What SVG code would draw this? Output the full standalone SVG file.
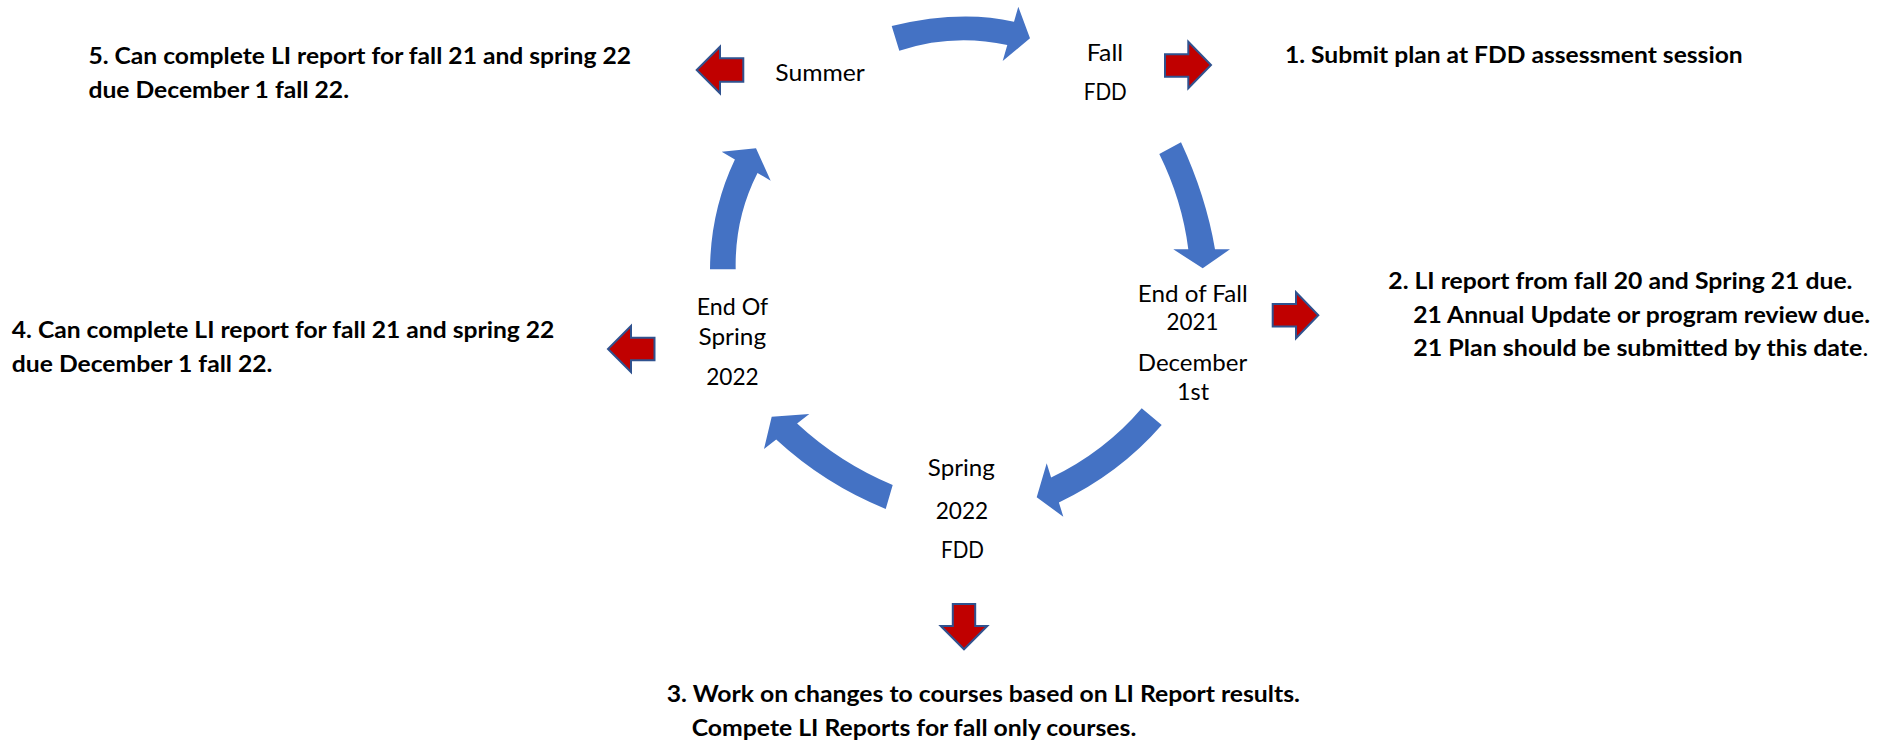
<svg xmlns="http://www.w3.org/2000/svg" width="1898" height="742" viewBox="0 0 1898 742">
<style>
.lbl{font-family:Lato,"Open Sans","DejaVu Sans",sans-serif;font-size:23px;fill:#000;text-anchor:middle}
.note{font-family:Lato,"Open Sans","DejaVu Sans",sans-serif;font-size:23.5px;font-weight:700;fill:#000}
.cyc{fill:#4472C4;stroke:none}
.red{fill:#C00000;stroke:#2F528F;stroke-width:2;stroke-linejoin:miter}
</style>
<rect width="1898" height="742" fill="#fff"/>

<g id="connectors">
  <path id="arc-summer-fall" class="cyc" d="M891.7,26 Q960,9.55 1014,21.7 L1018.3,6.7 L1030,38.3 L1002.7,61 L1007.3,45 Q952.7,33.15 899.3,50.7 Z"/>
  <path id="arc-fall-endfall" class="cyc" d="M1181,142.3 Q1206,196.2 1215,249.3 L1230,249.3 L1202.7,268.3 L1173.3,249.3 L1188.3,249.3 Q1182.2,200.35 1159.3,154 Z"/>
  <path id="arc-endfall-spring" class="cyc" d="M1141.7,408.3 Q1104.4,452 1051.1,477.6 L1046.7,463.3 L1036.7,497.3 L1063.3,516.7 L1058.9,502.4 Q1119.3,473.7 1161.7,425 Z"/>
  <path id="arc-spring-endspring" class="cyc" d="M892.7,485 Q839.5,462.75 797.1,423.5 L809.3,414 L771.7,416.7 L764,449 L776.2,439.6 Q824.6,484.3 885.7,509 Z"/>
  <path id="arc-endspring-summer" class="cyc" d="M710,269.3 Q710.5,210.6 734.9,159.5 L721.7,151.7 L756,148.3 L770.7,180.7 L757.5,172.9 Q734.6,217.9 735.7,269.3 Z"/>

  <polygon id="to-note1" class="red" points="1165,54.3 1188.3,54.3 1188.3,41.7 1211,65 1188.3,88.3 1188.3,76.7 1165,76.7"/>
  <polygon id="to-note2" class="red" points="1272.7,304.1 1296,304.1 1296,292.3 1318.3,315.3 1296,338.3 1296,326.5 1272.7,326.5"/>
  <polygon id="to-note3" class="red" points="952.8,604 975.2,604 975.2,626 987.3,626 964,649.3 940.7,626 952.8,626"/>
  <polygon id="to-note4" class="red" points="654.5,337.8 631,337.8 631,326 608,349 631,372 631,360.2 654.5,360.2"/>
  <polygon id="to-note5" class="red" points="743.3,58.3 720,58.3 720,46.7 696.7,70 720,93.3 720,81.7 743.3,81.7"/>
</g>

<g id="node-summer">
  <text class="lbl" x="820" y="81" textLength="89.5" lengthAdjust="spacingAndGlyphs">Summer</text>
</g>
<g id="node-fall">
  <text class="lbl" x="1105" y="60.7" textLength="36.3" lengthAdjust="spacingAndGlyphs">Fall</text>
  <text class="lbl" x="1105.3" y="100" textLength="43" lengthAdjust="spacingAndGlyphs">FDD</text>
</g>
<g id="node-end-of-fall">
  <text class="lbl" x="1192.8" y="301.7" textLength="110" lengthAdjust="spacingAndGlyphs">End of Fall</text>
  <text class="lbl" x="1192.5" y="330" textLength="52" lengthAdjust="spacingAndGlyphs">2021</text>
  <text class="lbl" x="1192.5" y="370.7" textLength="109.3" lengthAdjust="spacingAndGlyphs">December</text>
  <text class="lbl" x="1193" y="400" textLength="32" lengthAdjust="spacingAndGlyphs">1st</text>
</g>
<g id="node-spring">
  <text class="lbl" x="961.3" y="476" textLength="67" lengthAdjust="spacingAndGlyphs">Spring</text>
  <text class="lbl" x="962" y="519.3" textLength="52.5" lengthAdjust="spacingAndGlyphs">2022</text>
  <text class="lbl" x="962.5" y="558.3" textLength="43" lengthAdjust="spacingAndGlyphs">FDD</text>
</g>
<g id="node-end-of-spring">
  <text class="lbl" x="732.5" y="315" textLength="71.5" lengthAdjust="spacingAndGlyphs">End Of</text>
  <text class="lbl" x="732.3" y="345" textLength="67.5" lengthAdjust="spacingAndGlyphs">Spring</text>
  <text class="lbl" x="732.5" y="385" textLength="52.5" lengthAdjust="spacingAndGlyphs">2022</text>
</g>

<g id="note-1">
  <text class="note" x="1285" y="63.3" textLength="457.7" lengthAdjust="spacingAndGlyphs">1. Submit plan at FDD assessment session</text>
</g>
<g id="note-2">
  <text class="note" x="1388.3" y="289.3" textLength="464.2" lengthAdjust="spacingAndGlyphs">2. LI report from fall 20 and Spring 21 due.</text>
  <text class="note" x="1413.3" y="322.7" textLength="456.7" lengthAdjust="spacingAndGlyphs">21 Annual Update or program review due.</text>
  <text class="note" x="1413.3" y="356" textLength="455" lengthAdjust="spacingAndGlyphs">21 Plan should be submitted by this date<tspan font-weight="400">.</tspan></text>
</g>
<g id="note-3">
  <text class="note" x="666.7" y="701.7" textLength="633.2" lengthAdjust="spacingAndGlyphs">3. Work on changes to courses based on LI Report results.</text>
  <text class="note" x="691.7" y="736.2" textLength="444.6" lengthAdjust="spacingAndGlyphs">Compete LI Reports for fall only courses.</text>
</g>
<g id="note-4">
  <text class="note" x="11.8" y="338" textLength="542.6" lengthAdjust="spacingAndGlyphs">4. Can complete LI report for fall 21 and spring 22</text>
  <text class="note" x="11.8" y="371.5" textLength="260.6" lengthAdjust="spacingAndGlyphs">due December 1 fall 22.</text>
</g>
<g id="note-5">
  <text class="note" x="88.4" y="64" textLength="542.6" lengthAdjust="spacingAndGlyphs">5. Can complete LI report for fall 21 and spring 22</text>
  <text class="note" x="88.4" y="97.5" textLength="260.6" lengthAdjust="spacingAndGlyphs">due December 1 fall 22.</text>
</g>
</svg>
